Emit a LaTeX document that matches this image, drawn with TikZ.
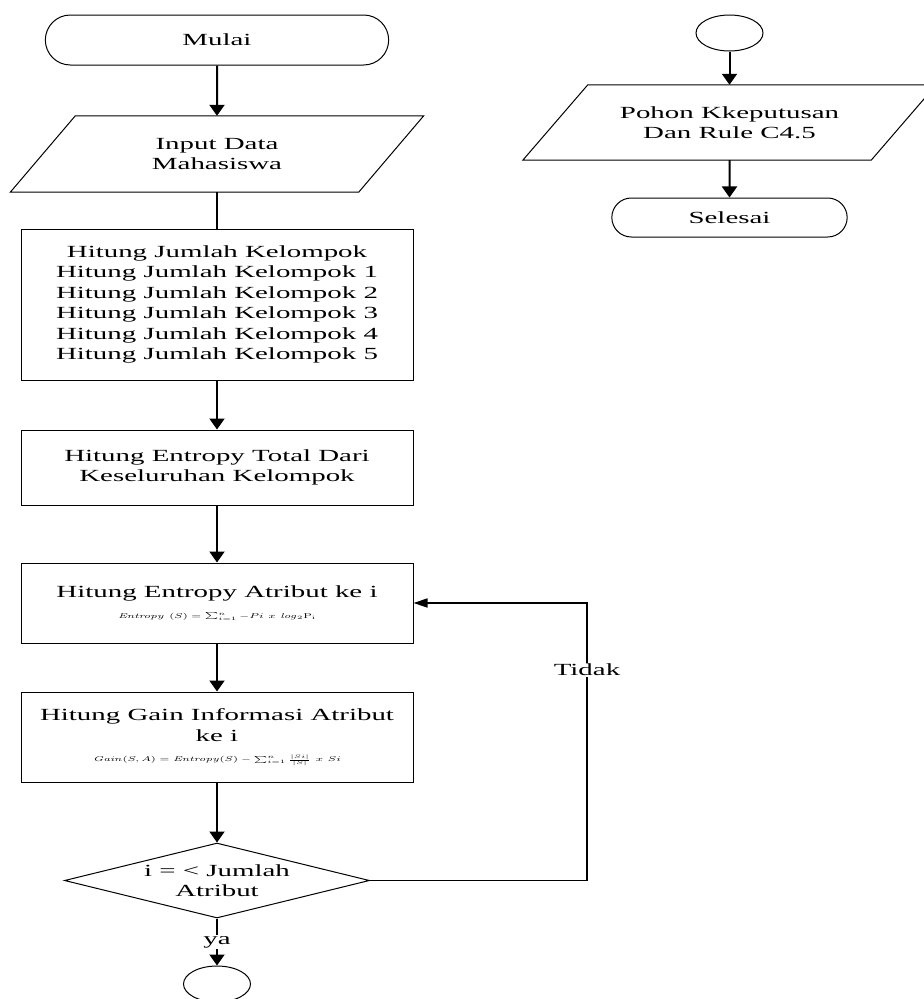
\documentclass[tikz,border=0pt]{standalone}
\usepackage[no-math]{fontspec}
\setmainfont{Liberation Serif}[FakeStretch=1.7]
\usepackage{amsmath}
\usepackage{graphicx}
\usepackage{tikz}
\usetikzlibrary{shapes.geometric, shapes.misc, arrows.meta, positioning}

\tikzset{
  terminal/.style={rounded rectangle, draw, line width=1pt},
  proses/.style={rectangle, draw, line width=1pt, minimum width=392pt, align=center, inner sep=2pt},
  io/.style={minimum width=348pt, minimum height=76pt, align=center},
  keputusan/.style={diamond, draw, line width=1pt, aspect=4, inner sep=0pt, align=center},
  konektor/.style={ellipse, draw, line width=1pt, minimum width=67pt, minimum height=36pt},
  panah/.style={-{Triangle[width=15pt,length=11pt]}, line width=2pt},
  balik/.style={-{Triangle[width=9pt,length=14pt]}, line width=1.5pt},
  ket/.style={fill=white, inner sep=1pt}
}
\newcommand{\rumus}[1]{{\fontsize{7}{9}\selectfont\scalebox{1.6}[1]{$#1$}}}

\begin{document}
\begin{tikzpicture}[x=1pt, y=-1pt, font=\fontsize{17}{20.5}\selectfont]
        \useasboundingbox (0,0) rectangle (924,999);
        \clip (0,0) rectangle (924,999);

        \node[terminal, minimum width=350pt, minimum height=50pt] (mulai) at (217,40) {Mulai};
        \node[io] (input) at (217,154) {Input Data\\Mahasiswa};
        \node[proses, minimum height=151pt] (kelompok) at (217,304.5) {Hitung Jumlah Kelompok\\Hitung Jumlah Kelompok 1\\Hitung Jumlah Kelompok 2\\Hitung Jumlah Kelompok 3\\Hitung Jumlah Kelompok 4\\Hitung Jumlah Kelompok 5};
        \node[proses, minimum height=75pt] (total) at (217,467.5) {Hitung Entropy Total Dari\\Keseluruhan Kelompok};
        \node[proses, minimum height=80pt] (entropi) at (217,603) {Hitung Entropy Atribut ke i\\\rumus{\mathit{Entropy}\ (S) = \textstyle\sum_{i=1}^{n} -Pi\ x\ \mathit{log}_2\mathrm{P}_{\mathrm{i}}}};
        \node[proses, minimum height=90pt] (gain) at (217,737) {Hitung Gain Informasi Atribut\\ke i\\\rumus{\mathit{Gain}(S,A) = \mathit{Entropy}(S) - \textstyle\sum_{i=1}^{n}\frac{|Si|}{|S|}\ x\ Si}};
        \node[keputusan, minimum width=305pt, minimum height=75pt] (cek) at (217,880.5) {i = < Jumlah\\Atribut};
        \node[konektor] (ke1) at (217,984) {};

        \node[konektor] (dari1) at (729.5,33) {};
        \node[io, minimum height=75pt] (pohon) at (729.5,122.5) {Pohon Kkeputusan\\Dan Rule C4.5};
        \node[terminal, minimum width=242pt, minimum height=39pt] (selesai) at (729.5,217.5) {Selesai};
        \coordinate (belok) at (587,603);

        % jajaran genjang input / output
        \foreach \n in {input, pohon}
            \draw[line width=1pt] ([xshift=32.5pt]\n.north west) -- ([xshift=32.5pt]\n.north east)
                -- ([xshift=-32.5pt]\n.south east) -- ([xshift=-32.5pt]\n.south west) -- cycle;

        \draw[panah] (mulai) to (input);
        \draw[line width=2pt] (input) to (kelompok);
        \draw[panah] (kelompok) to (total);
        \draw[panah] (total) to (entropi);
        \draw[panah] (entropi) to (gain);
        \draw[panah] (gain) to (cek);
        \draw[panah] (cek) to node[ket] {ya} (ke1);
        \draw[balik] (cek.east) -| node[ket, pos=0.88] {Tidak} (belok) to (entropi.east);

        \draw[panah] (dari1) to (pohon);
        \draw[panah] (pohon) to (selesai);
    \end{tikzpicture}
\end{document}
